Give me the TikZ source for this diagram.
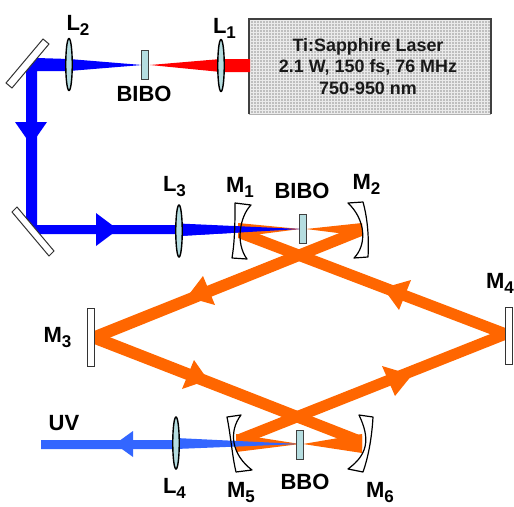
\documentclass[tikz,border=0pt]{standalone}
\usepackage{fontspec}
\setmainfont{Liberation Sans}
\usetikzlibrary{shapes.geometric}
\definecolor{bl}{HTML}{0000FF}
\definecolor{rd}{HTML}{FF0000}
\definecolor{og}{HTML}{FF6600}
\definecolor{uv}{HTML}{3366FF}
\definecolor{lensc}{HTML}{B5DDE0}
\newcommand{\lab}[2]{#1\raisebox{-5pt}{\fontsize{17}{17}\selectfont #2}}
\tikzset{
  lbl/.style={font=\fontsize{22}{22}\selectfont\bfseries,inner sep=0pt,text=black},
  lens/.style={draw=black,line width=1.4pt,fill=lensc,ellipse,minimum width=6.5pt,minimum height=52pt,inner sep=0pt},
  crystal/.style={draw=black!75,line width=1pt,fill=lensc,rectangle,minimum width=6.5pt,minimum height=29pt,inner sep=0pt},
  flatm/.style={draw=black!80,line width=1pt,fill=white},
  curvm/.style={draw=black,line width=1.2pt,line join=round},
}
\begin{document}
\begin{tikzpicture}[x=1pt,y=-1pt]
\useasboundingbox (0,0) rectangle (514,506);
% laser
\fill[black!25] (249,19) rectangle (491,114);
\foreach \i in {0,...,80}{\draw[black!8,line width=1pt] (250+3*\i,19) -- (250+3*\i,114);}
\foreach \i in {0,...,31}{\draw[black!8,line width=1pt] (249,20+3*\i) -- (491,20+3*\i);}
\draw[black!75,line width=1.5pt] (249,114) -- (249,19) -- (491,19) -- (491,114);
\draw[black!30,line width=1pt] (249,114) -- (491,114);
\node[font=\fontsize{17.9}{21.5}\selectfont\bfseries,align=center,inner sep=0pt,text=black!90] (laser) at (368,66.5) {Ti:Sapphire Laser\\2.1 W, 150 fs, 76 MHz\\750-950 nm};
% pump beams
\fill[rd] (250,59) -- (221,59) -- (150,65) -- (221,72) -- (250,72) -- cycle;
\fill[bl] (26,71) -- (37,58) -- (69,59) -- (142,65) -- (69,71) -- (37,71) -- (37,225) -- (179,225) -- (300,229) -- (179,236) -- (179,234) -- (40,234) -- (26,218) -- cycle;
\fill[bl] (15,122) -- (47,122) -- (31,145) -- cycle;
\fill[bl] (96,213) -- (118,229.5) -- (96,246) -- cycle;
% ring beams
\fill[og] (238,226) -- (505.5,328) -- (505.5,340) -- (238,238) -- cycle;
\fill[og] (362,224) -- (94,331) -- (94,344) -- (362,236) -- cycle;
\fill[og] (94,331) -- (362,436) -- (362,448) -- (94,344) -- cycle;
\fill[og] (505.5,328) -- (236,435) -- (236,447) -- (505.5,340) -- cycle;
\fill[og] (238,223) -- (300,229) -- (238,237) -- cycle;
\fill[og] (306,229) -- (362,223) -- (362,236) -- cycle;
\fill[og] (236,434) -- (300,444) -- (236,452) -- cycle;
\fill[og] (303,444) -- (362,434) -- (362,453) -- cycle;
\fill[og] (411,280) -- (383,288) -- (399,310) -- cycle;
\fill[og] (382,366) -- (412,375) -- (395,396) -- cycle;
\fill[og] (203,276) -- (187,297) -- (215,305) -- cycle;
\fill[og] (194,360) -- (208,380) -- (182,389) -- cycle;
\fill[bl] (179,223.5) -- (300,229) -- (179,236) -- cycle;
% UV
\fill[uv] (41,440) -- (176,440) -- (176,438) -- (300,444) -- (176,449) -- (41,449) -- cycle;
\fill[uv] (133,431) -- (115,444) -- (133,457) -- cycle;
% plane mirrors
\draw[flatm] (43,39) -- (49,44) -- (12,88) -- (6,83) -- cycle;
\draw[flatm] (12,212) -- (17,207) -- (54,251) -- (49,256) -- cycle;
\draw[flatm] (87,308) rectangle (94,366);
\draw[flatm] (505.5,307) rectangle (512.5,364);
% curved mirrors
\draw[curvm] (235,203) -- (251,205) .. controls (240,216) and (235,243) .. (247,259) -- (232,258) .. controls (235,240) and (235,220) .. (235,203) -- cycle;
\draw[curvm] (348,203) -- (363,202) .. controls (368,220) and (369,240) .. (368,257) -- (354,258) .. controls (367,245) and (366,220) .. (348,203) -- cycle;
\draw[curvm] (227,417) -- (241,415) .. controls (228,432) and (232,455) .. (252,470) -- (236,472) .. controls (232,455) and (231,437) .. (227,417) -- cycle;
\draw[curvm] (359,415) -- (373,417) .. controls (372,435) and (369,455) .. (363,472) -- (348,469) .. controls (367,455) and (371,440) .. (359,415) -- cycle;
% lenses and crystals
\node[lens] (L1) at (221,65.5) {};
\node[lens] (L2) at (69,64.5) {};
\node[lens] (L3) at (179,231) {};
\node[lens] (L4) at (176,443) {};
\node[crystal] (C1) at (145,65) {};
\node[crystal] (C2) at (303,229) {};
\node[crystal] (C3) at (300,445) {};
% labels
\node[lbl] (tL1) at (224.5,28.5) {\lab{L}{1}};
\node[lbl] (tL2) at (78,25.5) {\lab{L}{2}};
\node[lbl] (tL3) at (174.5,187) {\lab{L}{3}};
\node[lbl] (tL4) at (174.5,488) {\lab{L}{4}};
\node[lbl] (tM1) at (240,187.5) {\lab{M}{1}};
\node[lbl] (tM2) at (366.5,184) {\lab{M}{2}};
\node[lbl] (tM3) at (57.5,338) {\lab{M}{3}};
\node[lbl] (tM4) at (500,283.5) {\lab{M}{4}};
\node[lbl] (tM5) at (241,492.5) {\lab{M}{5}};
\node[lbl] (tM6) at (380,492.5) {\lab{M}{6}};
\node[lbl] (tB1) at (144,94) {BIBO};
\node[lbl] (tB2) at (302,191) {BIBO};
\node[lbl] (tB3) at (305,482) {BBO};
\node[lbl] (tUV) at (64,423) {UV};
\end{tikzpicture}
\end{document}
